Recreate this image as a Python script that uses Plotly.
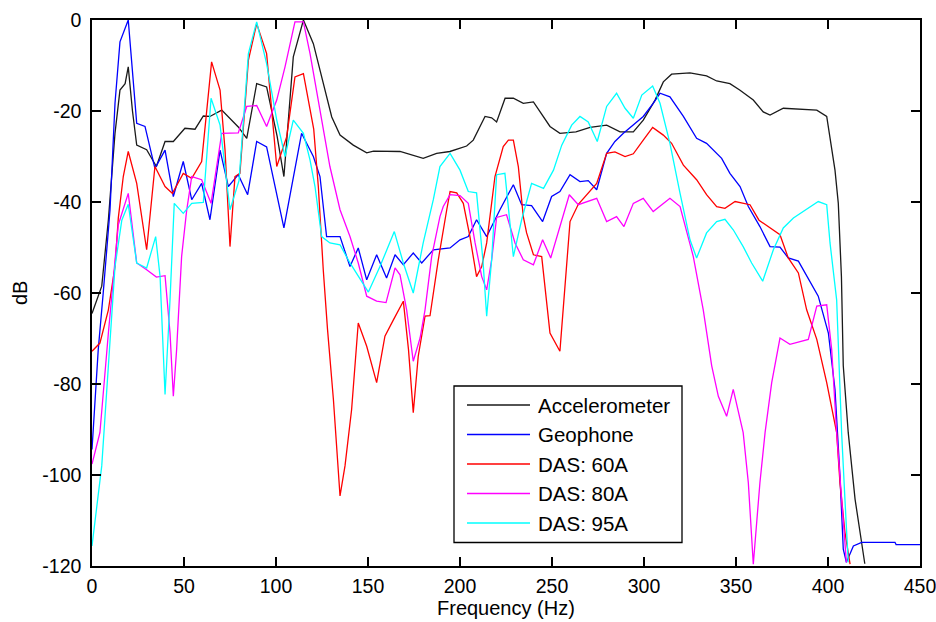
import plotly.graph_objects as go

# Spectra (frequency in Hz, level in dB) for each sensor
accel_f = [0, 4.3, 5.3, 8.9, 12.5, 15.2, 18, 19.7, 22, 24.3, 29.7, 35, 39.7, 44.2, 50.5, 56,
           60.5, 64.1, 70.5, 79.5, 84.1, 89.5, 94.9, 100.6, 104.3, 109.4, 114.9, 120.3, 125.7,
           130.3, 134.8, 142, 149.3, 153, 167.4, 180, 187.3, 194.5, 203.6, 207.2, 213.6, 217.2,
           219.9, 224.5, 229, 234.4, 239.9, 248.9, 254.3, 263, 270.7, 279.7, 287, 294.2, 299.6,
           306, 310.5, 315, 325, 334, 339.5, 346.7, 352, 359.4, 364.8, 368.5, 375.7, 386.6,
           393.9, 399.3, 401.1, 403.8, 405.6, 406.5, 407.3, 408.3, 411, 414.7, 420]
accel_db = [-64.5, -60, -58.5, -43.9, -24.9, -15.4, -14, -10.3, -20, -27.5, -28.5, -32.2, -26.7,
            -26.7, -23.8, -24, -21.1, -21.2, -19.8, -23.5, -26, -14, -14.7, -25.5, -34.4, -8.1,
            0, -5.2, -14, -21.3, -25.3, -27.5, -29.2, -28.8, -28.9, -30.4, -29.3, -28.9, -27.7,
            -26.4, -21.2, -21.5, -22.4, -17.2, -17.2, -18.3, -18, -23.4, -24.9, -24.6, -23.6,
            -23.1, -24.6, -24.6, -22, -17.6, -13.6, -11.9, -11.6, -12.3, -13.4, -14, -15.4,
            -17.6, -20.2, -20.9, -19.4, -19.6, -19.8, -21.2, -25.6, -33, -40.3, -49, -56.4,
            -76, -90.7, -105.3, -119.5]

geo_f = [0, 1.6, 3.4, 6.1, 8.9, 9.8, 12.5, 15.2, 19.7, 24.3, 28.8, 34.2, 39.7, 44.2, 49.6, 54.2,
         59.6, 64.1, 69.6, 74.1, 79.5, 84.6, 89.5, 94.9, 104.3, 113.9, 120.3, 123.9, 127.5,
         134.8, 140.2, 144.7, 149.3, 154.7, 160.1, 164.7, 169.2, 174.6, 179.2, 185.5, 194.6,
         200, 204.5, 209, 214.5, 221.7, 229, 233.5, 238.9, 244.9, 249.8, 254.3, 259.8, 265.2,
         269.7, 274.3, 279.7, 284.2, 288.8, 294.2, 299.6, 305, 308.7, 314.1, 321.4, 328.6, 334,
         342.2, 346.7, 352.2, 356.7, 363, 368.5, 373.9, 378.4, 383.9, 392, 394.7, 400.2, 403.8,
         406.5, 408.3, 410, 413.8, 418.3, 436.4, 437, 450]
geo_db = [-94.4, -83.4, -72.4, -60, -46.8, -41.7, -18.3, -4.8, 0, -22.7, -23.4, -32.6, -28.6,
          -38.8, -31.1, -39.5, -35.9, -43.9, -28.6, -36.6, -34, -38.4, -26.7, -27.9, -45.7,
          -24.9, -30, -34.4, -47.6, -47.6, -54.2, -50.1, -57.1, -51.6, -56.7, -51.6, -53.8,
          -51.2, -53.4, -50.5, -50.1, -48.3, -47.6, -43.9, -47.6, -41.7, -36.2, -40.6, -40.8,
          -44.3, -38.8, -37.7, -34, -35.5, -35.3, -37.3, -29.3, -26.7, -24.9, -23.1, -21.2,
          -18.3, -16.1, -16.9, -21.2, -26, -27.1, -30.4, -33.7, -36.6, -41, -45.4, -49.8, -49.9,
          -52.3, -53, -58.9, -60.7, -68.8, -81.2, -100.2, -116.3, -119.2, -115.6, -114.8,
          -114.8, -115.3, -115.3]

das60_f = [0, 4.3, 8.9, 12.5, 14.3, 17, 19.7, 24.3, 29.7, 34.2, 39.7, 43.7, 49.6, 54.2, 59.6,
           65, 69.6, 72.3, 75, 77.7, 80.4, 85, 89.5, 94.9, 100.4, 105.8, 110.3, 114.9, 120.5,
           123, 125.7, 128, 131.2, 134.8, 137.5, 141.1, 144.7, 149.3, 154.7, 159.2, 163.8, 169.2,
           172, 174.6, 177.3, 181, 183.7, 188.2, 192.8, 194.6, 198.2, 201.8, 205.4, 209, 211.8,
           214.5, 219, 223.5, 226.3, 229, 231.7, 234.4, 236.2, 239.9, 244.4, 248.9, 254.3, 257.1,
           259.8, 264.3, 268.8, 274.3, 279.7, 284.2, 289.7, 294.2, 299.6, 304.7, 310.5, 315,
           321.4, 328.6, 334, 339.5, 344, 349.5, 357.6, 362.5, 373.9, 378.4, 383.9, 388.4,
           393.9, 399.3, 404.7, 406.5, 409.2, 412]
das60_db = [-72.8, -71, -63.7, -54.2, -43.5, -34.4, -28.9, -35.9, -50.5, -32.2, -36.6, -38.1,
            -33.7, -34.8, -31.1, -9.2, -15.4, -28.6, -49.8, -34.4, -33.7, -8.8, -0.8, -7.4,
            -32.2, -25.7, -12.5, -11.8, -24, -36.6, -55, -68, -83.4, -104.6, -98, -85.6, -66.6,
            -71.7, -79.7, -69.5, -65.9, -61.8, -72.4, -86.3, -73.9, -65.1, -65, -52.7, -41.7,
            -37.7, -38, -40.3, -47.6, -56.4, -54.2, -49, -34.4, -27.8, -26.4, -26.4, -32.2,
            -43.2, -46.8, -51.6, -52, -68.8, -72.8, -57.8, -44.3, -40.5, -38.4, -35.9, -29.3,
            -29, -30, -29.4, -26.4, -23.6, -25.3, -27.1, -31.9, -35.1, -38.4, -41, -41.4, -39.9,
            -40.6, -44, -47.2, -52.3, -55.6, -63.7, -70.2, -79.7, -90.7, -101.7, -112.6, -119.6]

das80_f = [0, 4.3, 8.9, 14.3, 19.7, 24.3, 29.7, 35, 39.7, 42.4, 44.2, 46, 48.7, 51.4, 54.2,
           59.6, 64.7, 70.5, 79.5, 84.1, 89.5, 94.9, 100.4, 104.9, 110.3, 114.9, 118.5, 123.9,
           129.3, 134.8, 140.2, 144.7, 149.3, 154.7, 159.8, 164.7, 167.4, 171, 174.6, 178.3, 181,
           184.6, 189.1, 190.9, 194.6, 200, 204.5, 208.2, 211.8, 214.5, 217.2, 219.9, 225.3,
           229.9, 234.4, 239.9, 244.9, 249.3, 254.3, 259.4, 264.3, 274.3, 279.7, 285.1, 289.1,
           294.2, 299.6, 305, 314.1, 319.6, 326.8, 332.2, 336.8, 340.4, 344.9, 348.5, 353.9,
           356.7, 359.4, 363, 365.8, 369.4, 373.9, 379.3, 389.3, 393.9, 399.3, 402, 404.7,
           407.4, 410]
das80_db = [-97.6, -90.7, -68.8, -45, -38.1, -53.4, -54.9, -56.5, -56.2, -68.8, -82.7, -72.4,
            -52, -42, -34.4, -35.1, -40.3, -24.9, -24.8, -19, -18.8, -23.4, -17.6, -10.3, -0.4,
            -0.4, -7.4, -19.8, -32.2, -41.7, -47.6, -53.4, -60.7, -61.8, -62.1, -54.5, -56,
            -63.7, -75, -69.9, -63.7, -52, -43.2, -41, -38.4, -38.6, -40.3, -49, -56.4, -59.3,
            -52.7, -43.4, -42.8, -49, -52.7, -53.8, -48.3, -52.3, -45.4, -38.4, -40.6, -39.2,
            -44.3, -43.2, -45.4, -40.3, -39.2, -42.1, -39.2, -41, -52, -63.7, -76, -82.7, -87.1,
            -81.2, -90.7, -101.7, -119.6, -101.7, -90.7, -79.7, -69.9, -71.3, -70.2, -62.9,
            -62.6, -72.4, -90.7, -105.3, -119.2]

das95_f = [0, 5.3, 8.9, 12.5, 16.2, 19.7, 24.3, 29.7, 34.6, 37, 39.7, 42.4, 44.7, 49.6, 54.2,
           60.5, 64.7, 69.6, 75, 79.9, 85, 89.5, 94.9, 100.4, 104.9, 109.4, 114.9, 118.5, 121.2,
           124.8, 129.3, 134.8, 140.2, 150.2, 156.5, 164.3, 169.2, 174.6, 180, 185.5, 189.1,
           194.6, 200, 204.5, 209, 212.5, 214.5, 217.2, 219.9, 224.4, 229, 233.5, 238.9, 245.4,
           250.8, 255.3, 260.7, 265.2, 269.7, 274.6, 279.7, 285.1, 289.7, 294.2, 298.8, 304.7,
           308.7, 314.1, 319.6, 325, 328.6, 334, 339.5, 344, 348.5, 353.9, 358.5, 364.5, 370.3,
           375.7, 381.2, 386.6, 394.7, 399.3, 401.1, 404.7, 407.4, 409.2, 411]
das95_db = [-115.6, -98, -76, -54.2, -44, -40.5, -53.4, -54.5, -47.6, -56.4, -82.3, -61.5,
            -40.3, -42.5, -40.3, -40.1, -17.2, -23.1, -41.7, -35.3, -7.4, -0.4, -9.6, -22, -30,
            -22, -24.9, -30.8, -36.6, -47.6, -49, -49.4, -53.4, -59.8, -54.2, -46.5, -53.4, -60,
            -49, -39.5, -32.2, -29.3, -33, -37.7, -38, -53, -65.1, -52.7, -34, -33.7, -52,
            -43.9, -35.9, -37, -33, -27.5, -23.1, -21.2, -22.4, -26.7, -19, -16.1, -19.4, -21.6,
            -16.5, -14.5, -18.3, -27.1, -38.1, -48.3, -52.3, -46.8, -44.3, -43.8, -46.1, -49.8,
            -53.4, -57.4, -50.5, -45.7, -43.5, -42.1, -39.9, -40.6, -49, -61.5, -90.7, -105.3,
            -119.2]

series_names = ["Accelerometer", "Geophone", "DAS: 60A", "DAS: 80A", "DAS: 95A"]
series_colors = ["#1a1a1a", "#0000ff", "#ff0000", "#ff00ff", "#00ffff"]
series_data = [(accel_f, accel_db), (geo_f, geo_db), (das60_f, das60_db),
               (das80_f, das80_db), (das95_f, das95_db)]

x_ticks = [0, 50, 100, 150, 200, 250, 300, 350, 400, 450]
y_ticks = [0, -20, -40, -60, -80, -100, -120]

FONT = "Liberation Sans, Arial, sans-serif"
W, H = 936, 622
ML, MR, MT, MB = 92, 16, 20, 56

fig = go.Figure()
for (f, db), name, color in zip(series_data, series_names, series_colors):
    fig.add_trace(go.Scatter(x=f, y=db, mode="lines", name=name,
                             line=dict(color=color, width=1.3), showlegend=False))

axis_common = dict(showgrid=False, zeroline=False, showline=True, linecolor="black",
                   linewidth=1.5, mirror="ticks", ticks="inside", ticklen=9,
                   tickcolor="black", tickwidth=1.5, automargin=False,
                   ticklabeloverflow="allow",
                   tickfont=dict(family=FONT, size=19.5, color="black"))

fig.update_xaxes(range=[0, 450], tickvals=x_ticks, ticktext=[str(v) for v in x_ticks],
                 ticklabelstandoff=2, **axis_common)
fig.update_yaxes(range=[-120, 0], tickvals=y_ticks, ticktext=[str(v) for v in y_ticks],
                 ticklabelstandoff=5, **axis_common)

# Pixel -> paper helpers for the axis titles and the legend box
pw, ph = W - ML - MR, H - MT - MB
def px(x):
    return (x - ML) / pw
def py(y):
    return 1 - (y - MT) / ph

fig.add_annotation(xref="paper", yref="paper", x=px(506), y=py(608), text="Frequency (Hz)",
                   showarrow=False, xanchor="center", yanchor="middle",
                   font=dict(family=FONT, size=20, color="black"))
fig.add_annotation(xref="paper", yref="paper", x=px(20), y=py(293), text="dB", textangle=-90,
                   showarrow=False, xanchor="center", yanchor="middle",
                   font=dict(family=FONT, size=20, color="black"))

fig.add_shape(type="rect", xref="paper", yref="paper",
              x0=px(454), x1=px(682), y0=py(542.5), y1=py(386),
              line=dict(color="black", width=1.3), fillcolor="white", layer="above")
row_y = [405, 434.5, 464, 493.5, 523]
for name, color, yy in zip(series_names, series_colors, row_y):
    fig.add_shape(type="line", xref="paper", yref="paper",
                  x0=px(467), x1=px(530), y0=py(yy), y1=py(yy),
                  line=dict(color=color, width=1.3), layer="above")
    fig.add_annotation(xref="paper", yref="paper", x=px(536), y=py(yy), text=name,
                       showarrow=False, xanchor="left", yanchor="middle",
                       font=dict(family=FONT, size=20.5, color="black"))

fig.update_layout(width=W, height=H, margin=dict(l=ML, r=MR, t=MT, b=MB),
                  paper_bgcolor="white", plot_bgcolor="white")

fig.write_html("out.html")
